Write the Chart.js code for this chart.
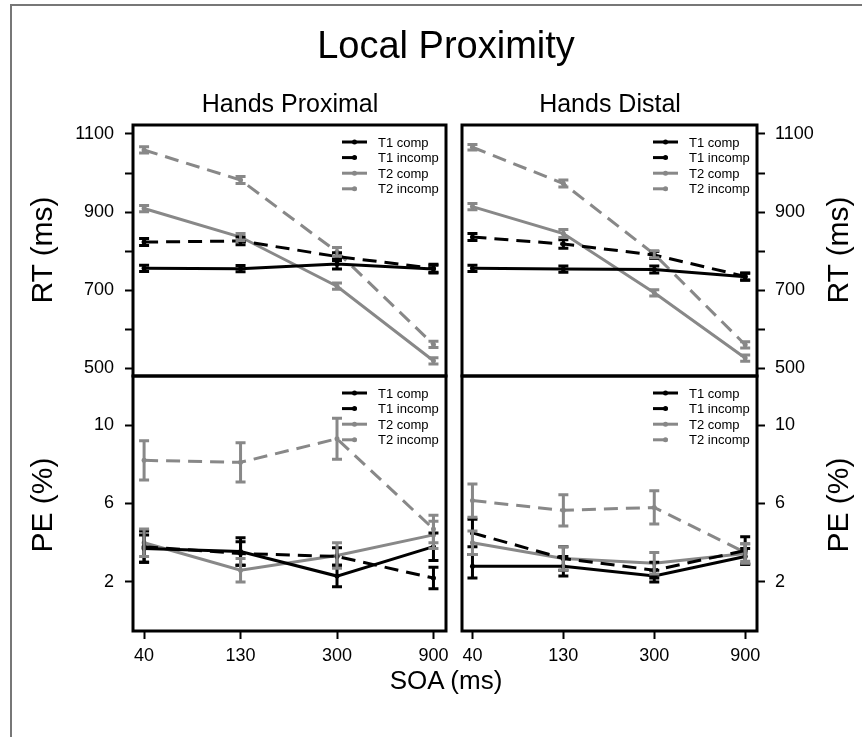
<!DOCTYPE html>
<html>
<head>
<meta charset="utf-8">
<script src="https://cdn.jsdelivr.net/npm/chart.js@4.4.0/dist/chart.umd.min.js"></script>
<style>
html, body { margin: 0; padding: 0; background: #fff; }
#page { position: relative; width: 862px; height: 737px; overflow: hidden; font-family: "Liberation Sans", Arial, sans-serif; }
#page canvas { position: absolute; left: 0; top: 0; }
.lbl { position: absolute; white-space: nowrap; line-height: 1; color: #000; transform: translate(-50%, -50%); }
.rot { transform: translate(-50%, -50%) rotate(-90deg); }
#frame { position: absolute; left: 10px; top: 4px; width: 900px; height: 800px; border-left: 2px solid #777; border-top: 2px solid #777; }
</style>
</head>
<body>
<div id="page">
  <div id="frame"></div>
  <canvas id="rt-prox" width="862" height="737"></canvas>
  <canvas id="rt-dist" width="862" height="737"></canvas>
  <canvas id="pe-prox" width="862" height="737"></canvas>
  <canvas id="pe-dist" width="862" height="737"></canvas>
  <div class="lbl" style="left:446px;top:45px;font-size:38px;">Local Proximity</div>
  <div class="lbl" style="left:290px;top:103px;font-size:25px;">Hands Proximal</div>
  <div class="lbl" style="left:610px;top:103px;font-size:25px;">Hands Distal</div>
  <div class="lbl rot" style="left:42px;top:250px;font-size:30px;">RT (ms)</div>
  <div class="lbl rot" style="left:838px;top:250px;font-size:30px;">RT (ms)</div>
  <div class="lbl rot" style="left:42px;top:505px;font-size:30px;">PE (%)</div>
  <div class="lbl rot" style="left:838px;top:505px;font-size:30px;">PE (%)</div>
  <div class="lbl" style="left:446px;top:680px;font-size:26px;">SOA (ms)</div>
</div>
<script>
// x categories (SOA) and series names
const SOA_LABELS = ['40', '130', '300', '900'];
const SERIES_NAMES = ['T1 comp', 'T1 incomp', 'T2 comp', 'T2 incomp'];

// y ticks
const RT_TICKS = [500, 600, 700, 800, 900, 1000, 1100];
const RT_TICK_LABELS = ['500', '', '700', '', '900', '', '1100'];
const PE_TICKS = [2, 6, 10];
const PE_TICK_LABELS = ['2', '6', '10'];

// RT (ms), hands proximal
const RT_PROX_T1_COMP = [756, 755, 767, 754];
const RT_PROX_T1_INCOMP = [823, 826, 786, 756];
const RT_PROX_T2_COMP = [909, 836, 710, 519];
const RT_PROX_T2_INCOMP = [1059, 982, 798, 561];
const RT_PROX_T1_COMP_ERR = [8, 8, 13, 10];
const RT_PROX_T1_INCOMP_ERR = [9, 10, 10, 10];
const RT_PROX_T2_COMP_ERR = [8, 9, 8, 8];
const RT_PROX_T2_INCOMP_ERR = [8, 9, 11, 8];

// RT (ms), hands distal
const RT_DIST_T1_COMP = [756, 754, 753, 734];
const RT_DIST_T1_INCOMP = [836, 818, 790, 735];
const RT_DIST_T2_COMP = [914, 845, 693, 526];
const RT_DIST_T2_INCOMP = [1066, 973, 792, 560];
const RT_DIST_T1_COMP_ERR = [8, 8, 9, 9];
const RT_DIST_T1_INCOMP_ERR = [9, 11, 9, 9];
const RT_DIST_T2_COMP_ERR = [8, 10, 8, 8];
const RT_DIST_T2_INCOMP_ERR = [7, 9, 9, 8];

// PE (%), hands proximal
const PE_PROX_T1_COMP = [3.7, 3.55, 2.3, 3.8];
const PE_PROX_T1_INCOMP = [3.8, 3.45, 3.3, 2.2];
const PE_PROX_T2_COMP = [4.0, 2.6, 3.35, 4.4];
const PE_PROX_T2_INCOMP = [8.2, 8.1, 9.3, 4.7];
const PE_PROX_T1_COMP_ERR = [0.7, 0.7, 0.55, 0.7];
const PE_PROX_T1_INCOMP_ERR = [0.8, 0.6, 0.45, 0.55];
const PE_PROX_T2_COMP_ERR = [0.7, 0.6, 0.65, 0.7];
const PE_PROX_T2_INCOMP_ERR = [1.0, 1.0, 1.05, 0.7];

// PE (%), hands distal
const PE_DIST_T1_COMP = [2.8, 2.8, 2.3, 3.3];
const PE_DIST_T1_INCOMP = [4.5, 3.2, 2.6, 3.6];
const PE_DIST_T2_COMP = [4.0, 3.2, 2.95, 3.45];
const PE_DIST_T2_INCOMP = [6.15, 5.65, 5.8, 3.5];
const PE_DIST_T1_COMP_ERR = [0.6, 0.5, 0.3, 0.4];
const PE_DIST_T1_INCOMP_ERR = [0.7, 0.6, 0.4, 0.7];
const PE_DIST_T2_COMP_ERR = [0.6, 0.6, 0.55, 0.5];
const PE_DIST_T2_INCOMP_ERR = [0.85, 0.8, 0.85, 0.45];

const BLACK = '#000000';
const GREY = '#888888';
const COLORS = [BLACK, BLACK, GREY, GREY];
const DASHES = [[], [14, 8], [], [14, 8]];

Chart.defaults.font.family = '"Liberation Sans", Arial, sans-serif';
Chart.defaults.color = '#000';

const errorBarPlugin = {
    id: 'errorBars',
    afterDatasetsDraw(chart) {
        const ctx = chart.ctx;
        const xs = chart.scales.x;
        const ys = chart.scales.y;
        ctx.save();
        ctx.lineWidth = 3;
        ctx.setLineDash([]);
        chart.data.datasets.forEach(ds => {
            ctx.strokeStyle = ds.borderColor;
            ds.errors.forEach((e, i) => {
                const pt = ds.data[i];
                const px = xs.getPixelForValue(pt.x);
                const top = ys.getPixelForValue(pt.y + e);
                const bot = ys.getPixelForValue(pt.y - e);
                ctx.beginPath();
                ctx.moveTo(px, top); ctx.lineTo(px, bot);
                ctx.moveTo(px - 5, top); ctx.lineTo(px + 5, top);
                ctx.moveTo(px - 5, bot); ctx.lineTo(px + 5, bot);
                ctx.stroke();
            });
        });
        ctx.restore();
    }
};

const panelPlugin = {
    id: 'panelFrame',
    afterDraw(chart) {
        const ctx = chart.ctx;
        const a = chart.chartArea;
        ctx.save();
        ctx.strokeStyle = '#000';
        ctx.lineWidth = 3;
        ctx.setLineDash([]);
        ctx.strokeRect(a.left, a.top, a.right - a.left, a.bottom - a.top);

        // legend, top right
        ctx.font = '13px "Liberation Sans", Arial, sans-serif';
        ctx.textBaseline = 'middle';
        ctx.textAlign = 'left';
        chart.data.datasets.forEach((ds, i) => {
            const y = a.top + 17 + i * 15.6;
            const x0 = a.right - 104;
            const x1 = a.right - 79;
            const xm = (x0 + x1) / 2;
            ctx.strokeStyle = ds.borderColor;
            ctx.fillStyle = ds.borderColor;
            ctx.lineWidth = 3;
            ctx.beginPath();
            ctx.moveTo(x0, y);
            ctx.lineTo(ds.borderDash.length ? xm + 2 : x1, y);
            ctx.stroke();
            ctx.beginPath();
            ctx.arc(xm, y, 2.5, 0, Math.PI * 2);
            ctx.fill();
            ctx.fillStyle = '#000';
            ctx.fillText(ds.label, a.right - 68, y + 1);
        });
        ctx.restore();
    }
};

function makePanel(id, cfg) {
    const canvas = document.getElementById(id);
    if (!canvas) return null;
    const ctx = canvas.getContext('2d');

    const datasets = cfg.series.map((vals, i) => ({
        label: SERIES_NAMES[i],
        data: vals.map((v, j) => ({ x: j, y: v })),
        errors: cfg.errors[i],
        borderColor: COLORS[i],
        backgroundColor: COLORS[i],
        borderWidth: 3,
        borderDash: DASHES[i],
        pointRadius: 2.5,
        pointBorderWidth: 0,
        pointBackgroundColor: COLORS[i],
        tension: 0
    }));

    const tickGrid = {
        display: true,
        drawOnChartArea: false,
        drawTicks: true,
        tickLength: 8,
        tickWidth: 2,
        tickColor: '#000'
    };

    return new Chart(ctx, {
        type: 'line',
        data: { datasets: datasets },
        options: {
            responsive: false,
            animation: false,
            events: [],
            layout: { padding: cfg.padding },
            plugins: {
                legend: { display: false },
                tooltip: { enabled: false }
            },
            scales: {
                x: {
                    type: 'linear',
                    min: -0.115,
                    max: 3.13,
                    display: cfg.showX,
                    afterBuildTicks: s => { s.ticks = SOA_LABELS.map((_, i) => ({ value: i })); },
                    afterFit: s => { s.height = cfg.showX ? 50 : 0; },
                    ticks: {
                        callback: (v, i) => SOA_LABELS[i],
                        font: { size: 18 },
                        color: '#000',
                        padding: 6,
                        autoSkip: false,
                        maxRotation: 0
                    },
                    grid: tickGrid,
                    border: { display: false }
                },
                y: {
                    type: 'linear',
                    position: cfg.side,
                    min: cfg.yMin,
                    max: cfg.yMax,
                    afterBuildTicks: s => { s.ticks = cfg.ticks.map(v => ({ value: v })); },
                    afterFit: s => { s.width = 80; },
                    ticks: {
                        callback: (v, i) => cfg.tickLabels[i],
                        font: { size: 18 },
                        color: '#000',
                        padding: cfg.side === 'left' ? 11 : 10,
                        autoSkip: false
                    },
                    grid: tickGrid,
                    border: { display: false }
                }
            }
        },
        plugins: [errorBarPlugin, panelPlugin]
    });
}

const RT_RANGE = { yMin: 480, yMax: 1123, ticks: RT_TICKS, tickLabels: RT_TICK_LABELS };
const PE_RANGE = { yMin: -0.5, yMax: 12.5, ticks: PE_TICKS, tickLabels: PE_TICK_LABELS };

makePanel('rt-prox', Object.assign({
    side: 'left', showX: false,
    padding: { left: 53, right: 416, top: 125, bottom: 361 },
    series: [RT_PROX_T1_COMP, RT_PROX_T1_INCOMP, RT_PROX_T2_COMP, RT_PROX_T2_INCOMP],
    errors: [RT_PROX_T1_COMP_ERR, RT_PROX_T1_INCOMP_ERR, RT_PROX_T2_COMP_ERR, RT_PROX_T2_INCOMP_ERR]
}, RT_RANGE));

makePanel('rt-dist', Object.assign({
    side: 'right', showX: false,
    padding: { left: 462, right: 25, top: 125, bottom: 361 },
    series: [RT_DIST_T1_COMP, RT_DIST_T1_INCOMP, RT_DIST_T2_COMP, RT_DIST_T2_INCOMP],
    errors: [RT_DIST_T1_COMP_ERR, RT_DIST_T1_INCOMP_ERR, RT_DIST_T2_COMP_ERR, RT_DIST_T2_INCOMP_ERR]
}, RT_RANGE));

makePanel('pe-prox', Object.assign({
    side: 'left', showX: true,
    padding: { left: 53, right: 416, top: 376, bottom: 56 },
    series: [PE_PROX_T1_COMP, PE_PROX_T1_INCOMP, PE_PROX_T2_COMP, PE_PROX_T2_INCOMP],
    errors: [PE_PROX_T1_COMP_ERR, PE_PROX_T1_INCOMP_ERR, PE_PROX_T2_COMP_ERR, PE_PROX_T2_INCOMP_ERR]
}, PE_RANGE));

makePanel('pe-dist', Object.assign({
    side: 'right', showX: true,
    padding: { left: 462, right: 25, top: 376, bottom: 56 },
    series: [PE_DIST_T1_COMP, PE_DIST_T1_INCOMP, PE_DIST_T2_COMP, PE_DIST_T2_INCOMP],
    errors: [PE_DIST_T1_COMP_ERR, PE_DIST_T1_INCOMP_ERR, PE_DIST_T2_COMP_ERR, PE_DIST_T2_INCOMP_ERR]
}, PE_RANGE));
</script>
</body>
</html>
